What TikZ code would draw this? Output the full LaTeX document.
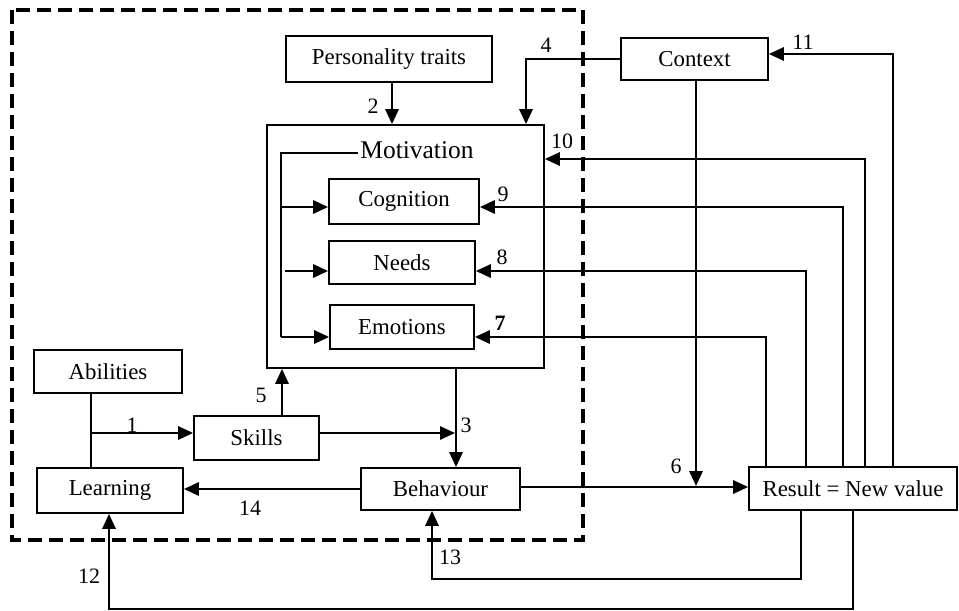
\documentclass[tikz,border=0pt]{standalone}
\usepackage{fontspec}
\setmainfont{Liberation Serif}
\usetikzlibrary{arrows.meta}
\tikzset{
  box/.style={draw,line width=1pt,inner sep=0pt,font=\fontsize{13}{15}\selectfont},
  wire/.style={line width=1.3pt},
  arr/.style={wire,-{Triangle[length=8.5pt,width=7.5pt]}},
  num/.style={inner sep=0pt,font=\fontsize{12.5}{14}\selectfont},
  dashbox/.style={line width=2.1pt,dash pattern=on 0.28cm off 0.14cm}
}
\begin{document}
\begin{tikzpicture}[x=0.02cm,y=-0.02cm]
\useasboundingbox (0,0) rectangle (959,611);
\draw[dashbox] (12,10) rectangle (583,540);
% boxes
\node[box,minimum width=4.12cm,minimum height=0.92cm] (pers) at (389,59) {Personality traits};
\node[box,minimum width=2.94cm,minimum height=0.84cm] (ctx) at (694.5,59) {Context};
\node[box,minimum width=5.54cm,minimum height=4.86cm] (mot) at (405.5,246.5) {};
\node[inner sep=1pt,font=\fontsize{14.5}{16}\selectfont] (mottxt) at (417,150) {Motivation};
\node[box,minimum width=3.00cm,minimum height=0.90cm] (cog) at (404,201.5) {Cognition};
\node[box,minimum width=2.92cm,minimum height=0.86cm] (needs) at (402,262.5) {Needs};
\node[box,minimum width=2.88cm,minimum height=0.88cm] (emo) at (402,327) {Emotions};
\node[box,minimum width=2.96cm,minimum height=0.86cm] (abil) at (108,371.5) {Abilities};
\node[box,minimum width=2.50cm,minimum height=0.88cm] (skills) at (256.5,438) {Skills};
\node[box,minimum width=2.92cm,minimum height=0.90cm] (learn) at (110,490.5) {Learning};
\node[box,minimum width=3.18cm,minimum height=0.84cm] (beh) at (440.5,489) {Behaviour};
\node[box,minimum width=4.16cm,minimum height=0.86cm] (res) at (853,488.5) {Result = New value};
% inside motivation
\coordinate (bus) at (281,153);
\draw[wire] (mottxt.west |- bus) -- (bus) -- (bus |- 0,337);
\draw[arr] (bus |- 0,207) -- (cog.west |- 0,207);
\draw[arr] (285,271) -- (needs.west |- 0,271);
\draw[arr] (bus |- 0,337) -- (emo.west |- 0,337);
% inputs to motivation
\draw[arr] (pers.south -| 392,0) -- (mot.north -| 392,0);
\draw[arr] (ctx.west) -| (mot.north -| 526,0);
% feedback from the result
\draw[arr] (res.north -| 865,0) |- (mot.east |- 0,159);
\draw[arr] (res.north -| 843,0) |- (cog.east |- 0,207);
\draw[arr] (res.north -| 806,0) |- (needs.east |- 0,271);
\draw[arr] (res.north -| 766,0) |- (emo.east |- 0,337);
\draw[arr] (res.north -| 893,0) |- (ctx.east |- 0,54);
\draw[arr] (res.south -| 801,0) -- (801,579) -| (beh.south -| 432,0);
\draw[arr] (res.south -| 853,0) -- (853,609) -| (learn.south -| 109,0);
% main flow
\coordinate (join) at (91,433);
\draw[wire] (abil.south -| join) -- (learn.north -| join);
\draw[arr] (join) -- (skills.west |- join);
\draw[arr] (skills.north -| 282,0) -- (mot.south -| 282,0);
\draw[arr] (skills.east |- join) -- (455,433);
\draw[arr] (mot.south -| 456,0) -- (beh.north -| 456,0);
\draw[arr] (beh.west) -- (beh.west -| learn.east);
\draw[arr] (beh.east |- 0,487) -- (res.west |- 0,487);
\draw[arr] (ctx.south -| 696,0) -- (696,486);
% numbers
\node[num] (n1) at (132,425) {1};
\node[num] (n2) at (373,106) {2};
\node[num] (n3) at (466,425) {3};
\node[num] (n4) at (546,45) {4};
\node[num] (n5) at (261,395) {5};
\node[num] (n6) at (676,466) {6};
\node[num] (n7) at (500,323) {\textbf{7}};
\node[num] (n8) at (502,257) {8};
\node[num] (n9) at (503,194) {9};
\node[num] (n10) at (562,141) {10};
\node[num] (n11) at (803,42) {11};
\node[num] (n12) at (89,576) {12};
\node[num] (n13) at (450,557) {13};
\node[num] (n14) at (250,508) {14};
\end{tikzpicture}
\end{document}
